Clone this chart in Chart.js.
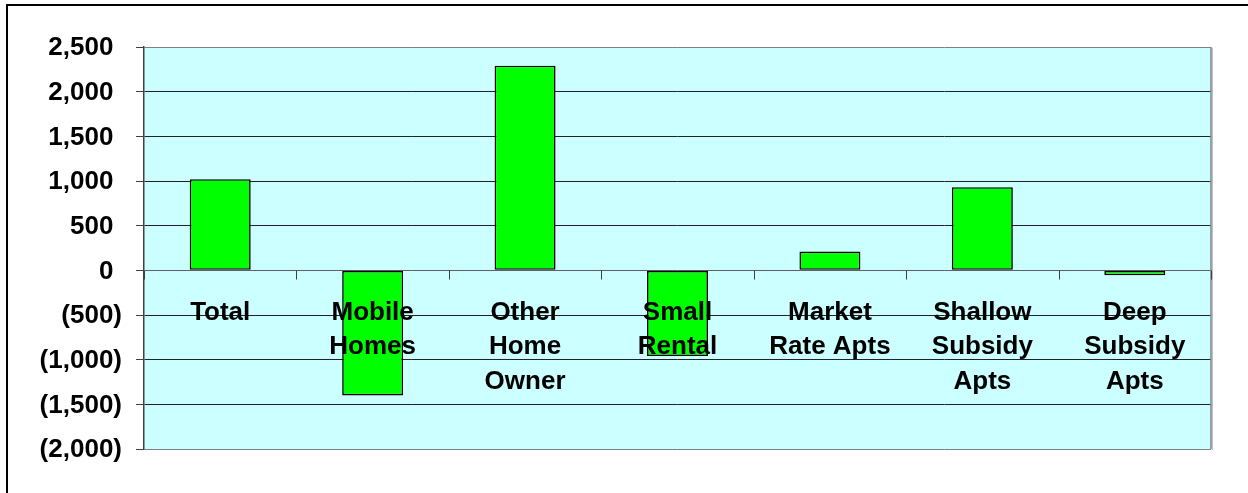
<!DOCTYPE html>
<html>
<head>
<meta charset="utf-8">
<script src="https://cdn.jsdelivr.net/npm/chart.js@4.4.0/dist/chart.umd.min.js"></script>
<style>
  html, body { margin: 0; padding: 0; background: #ffffff; }
  #wrap { position: relative; width: 1248px; height: 493px; }
</style>
</head>
<body>
<div id="wrap"><canvas id="c" width="1248" height="493"></canvas></div>
<script>
const categories = [
  ["Total"],
  ["Mobile", "Homes"],
  ["Other", "Home", "Owner"],
  ["Small", "Rental"],
  ["Market", "Rate Apts"],
  ["Shallow", "Subsidy", "Apts"],
  ["Deep", "Subsidy", "Apts"]
];
const values = [1020, -1400, 2290, -960, 210, 930, -55];
const yTicks = [2500, 2000, 1500, 1000, 500, 0, -500, -1000, -1500, -2000];

const FONT = 'bold 26px "Liberation Sans", Arial, sans-serif';

function fmt(v) {
  const s = Math.abs(v).toLocaleString('en-US');
  return v < 0 ? '(' + s + ')' : s;
}

const customDraw = {
  id: 'customDraw',
  beforeDraw(chart) {
    const ctx = chart.ctx, a = chart.chartArea;
    ctx.save();
    ctx.fillStyle = '#ffffff';
    ctx.fillRect(0, 0, chart.width, chart.height);
    ctx.fillStyle = '#CCFFFF';
    ctx.fillRect(a.left, a.top, a.right - a.left, a.bottom - a.top);
    // outer frame
    ctx.strokeStyle = '#000000';
    ctx.lineWidth = 2;
    ctx.beginPath();
    ctx.moveTo(7, chart.height + 2);
    ctx.lineTo(7, 5);
    ctx.lineTo(chart.width + 2, 5);
    ctx.stroke();
    ctx.restore();
  },
  afterDatasetsDraw(chart) {
    const ctx = chart.ctx, a = chart.chartArea;
    const xs = chart.scales.x, ys = chart.scales.y;
    ctx.save();
    // right border of plot area
    ctx.strokeStyle = '#c0c0c0';
    ctx.lineWidth = 1;
    ctx.beginPath();
    ctx.moveTo(a.right + 1.5, a.top + 1);
    ctx.lineTo(a.right + 1.5, a.bottom + 1);
    ctx.stroke();
    ctx.strokeStyle = '#808080';
    ctx.lineWidth = 1.5;
    ctx.beginPath();
    ctx.moveTo(a.right, a.top);
    ctx.lineTo(a.right, a.bottom);
    ctx.stroke();
    // x tick marks at category boundaries on zero line
    const y0 = Math.round(ys.getPixelForValue(0)) + 0.5;
    ctx.strokeStyle = '#404040';
    ctx.lineWidth = 1;
    const n = categories.length;
    for (let i = 0; i <= n; i++) {
      let x;
      if (i === 0) x = a.left;
      else if (i === n) x = a.right;
      else x = (xs.getPixelForValue(i - 1) + xs.getPixelForValue(i)) / 2;
      x = Math.round(x) + 0.5;
      ctx.beginPath();
      ctx.moveTo(x, y0);
      ctx.lineTo(x, y0 + 9);
      ctx.stroke();
    }
    // category labels
    ctx.font = FONT;
    ctx.fillStyle = '#000000';
    ctx.textAlign = 'center';
    ctx.textBaseline = 'middle';
    categories.forEach((lines, i) => {
      const x = xs.getPixelForValue(i);
      lines.forEach((t, j) => {
        ctx.fillText(t, x, ys.getPixelForValue(0) + 42 + j * 34.5);
      });
    });
    // y labels
    const rp = ctx.measureText(')').width;
    ctx.textAlign = 'right';
    yTicks.forEach(v => {
      const y = ys.getPixelForValue(v) + 1;
      const xr = v < 0 ? 122 : 122 - rp;
      ctx.fillText(fmt(v), xr, y);
    });
    ctx.restore();
  }
};

new Chart(document.getElementById('c'), {
  type: 'bar',
  data: {
    labels: categories.map(c => c.join(' ')),
    datasets: [{
      data: values,
      backgroundColor: '#00FF00',
      borderColor: '#000000',
      borderWidth: 1.6,
      borderSkipped: false,
      barPercentage: 0.4,
      categoryPercentage: 1.0
    }]
  },
  options: {
    responsive: false,
    animation: false,
    devicePixelRatio: 1,
    layout: { padding: { left: 136, right: 37, top: 47, bottom: 44 } },
    plugins: { legend: { display: false }, tooltip: { enabled: false }, title: { display: false } },
    scales: {
      x: { display: false },
      y: {
        min: -2000,
        max: 2500,
        afterBuildTicks(scale) { scale.ticks = yTicks.map(v => ({ value: v })); },
        ticks: { display: false },
        grid: {
          drawTicks: true,
          tickLength: 8,
          lineWidth: 1,
          color(ctx) {
            const v = ctx.tick && ctx.tick.value;
            if (v === 2500 || v === -2000) return '#808080';
            if (v === 0) return '#606060';
            return '#222222';
          },
          tickColor: '#404040'
        },
        border: { display: true, color: '#404040', width: 1.5 }
      }
    }
  },
  plugins: [customDraw]
});
</script>
</body>
</html>
